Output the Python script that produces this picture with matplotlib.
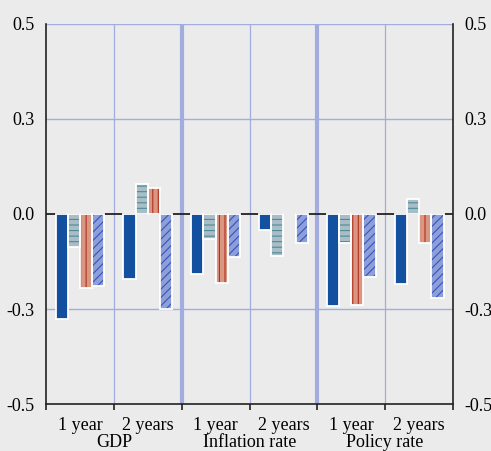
import numpy as np
import matplotlib.pyplot as plt

plt.rcParams["font.family"] = ["Liberation Serif", "DejaVu Serif"]
plt.rcParams["font.size"] = 13
plt.rcParams["hatch.linewidth"] = 0.8

horizons = ["1 year", "2 years", "1 year", "2 years", "1 year", "2 years"]
groups = ["GDP", "Inflation rate", "Policy rate"]

# four series, one value per (group, horizon)
s_blue = [-0.33, -0.205, -0.19, -0.05, -0.29, -0.22]
s_teal = [-0.105, 0.096, -0.08, -0.134, -0.09, 0.048]
s_red = [-0.235, 0.083, -0.217, 0.0, -0.288, -0.093]
s_purple = [-0.227, -0.30, -0.137, -0.093, -0.198, -0.265]

ytick_vals = [-0.6, -0.3, 0.0, 0.3, 0.6]
ytick_labels = ["-0.5", "-0.3", "0.0", "0.3", "0.5"]

bg = "#ebebeb"
grid = "#a3acdf"

fig = plt.figure(figsize=(4.91, 4.51), dpi=100, facecolor=bg)
ax = fig.add_axes([0.0937, 0.1042, 0.8289, 0.8426], facecolor=bg)

x = np.arange(len(horizons))
w = 0.18
series = [
    (s_blue, -0.27, "#1450a0", None, "#1450a0"),
    (s_teal, -0.09, "#a9bdc7", "---", "#4f8a98"),
    (s_red, 0.09, "#d99682", "|||", "#b3301f"),
    (s_purple, 0.27, "#8e9fd8", "////", "#3552c0"),
]

# grid and separators
for yv in [-0.3, 0.3, 0.6]:
    ax.axhline(yv, color=grid, lw=1.0, zorder=0)
for xv in [0.5, 2.5, 4.5]:
    ax.axvline(xv, color=grid, lw=0.9, zorder=0)
for xv in [1.5, 3.5]:
    ax.axvline(xv, color=grid, lw=3.0, zorder=0)
ax.axhline(0, color="#222222", lw=1.3, zorder=1)

for vals, off, fc, hatch, hc in series:
    ax.bar(x + off, vals, w, color=fc, hatch=hatch, edgecolor=hc, lw=0, zorder=2)
    ax.bar(x + off, vals, w, fill=False, edgecolor="white", lw=1.3, zorder=3)

ax.set_xlim(-0.5, 5.5)
ax.set_ylim(-0.6, 0.6)

ax.set_yticks(ytick_vals)
ax.set_yticklabels(ytick_labels)
ax.tick_params(axis="y", length=0, pad=8, labelright=True, right=False)

ax.set_xticks(x)
ax.set_xticklabels(horizons)
ax.set_xticks(np.arange(-0.5, 6, 1), minor=True)
ax.tick_params(axis="x", which="major", length=0, pad=9)
ax.tick_params(axis="x", which="minor", length=4, width=1.2, color="#222222")

for i, g in enumerate(groups):
    ax.text(2 * i + 0.5, -0.08, g, transform=ax.get_xaxis_transform(),
            ha="center", va="top")

ax.spines["top"].set_visible(False)
for s in ["left", "right", "bottom"]:
    ax.spines[s].set_color("#222222")
    ax.spines[s].set_linewidth(1.2)

fig.savefig("out.png", dpi=100, facecolor=bg)
